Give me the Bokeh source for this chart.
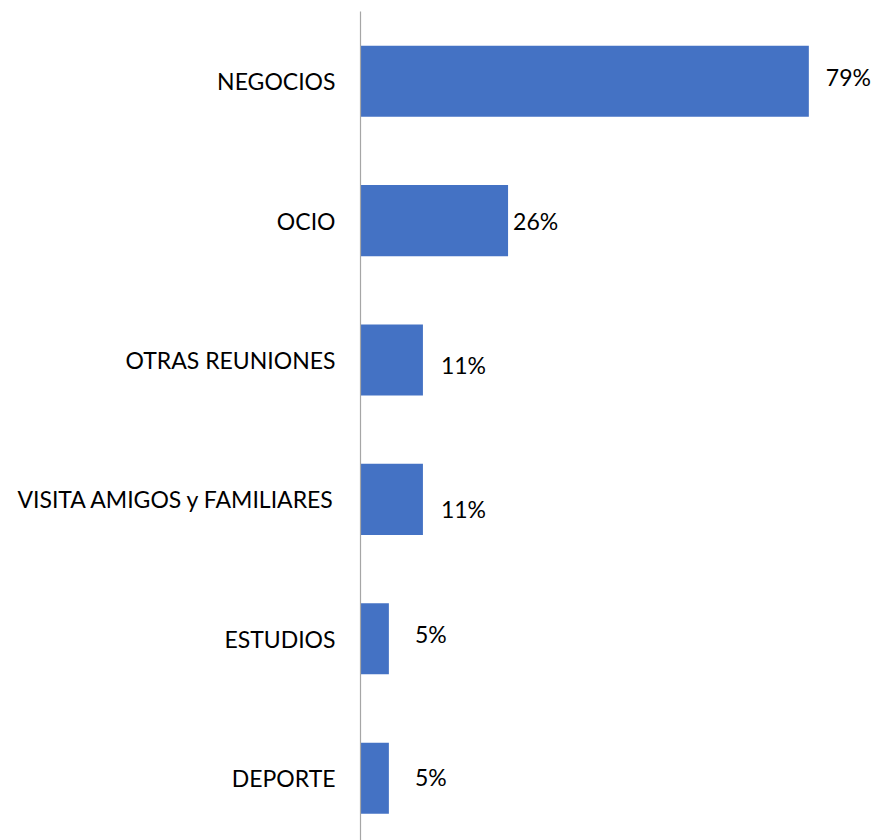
from bokeh.plotting import figure
from bokeh.models import ColumnDataSource, Range1d, FixedTicker
from bokeh.core.properties import value
from bokeh.embed import file_html
from bokeh.resources import INLINE

# Data (top to bottom as in the chart)
categories = ["NEGOCIOS", "OCIO", "OTRAS REUNIONES", "VISITA AMIGOS y FAMILIARES", "ESTUDIOS", "DEPORTE"]
values = [79, 26, 11, 11, 5, 5]
value_labels = ["79%", "26%", "11%", "11%", "5%", "5%"]

# label placement style (pixels), as in the reference's manually moved labels
label_dx = [17, 5, 18, 18, 26, 26]
label_dy = [-4, 0, 5, 10, -5, -1]

n = len(categories)
ypos = [n - 1 - i for i in range(n)]

src = ColumnDataSource(dict(y=ypos, v=values, lab=value_labels, dx=label_dx, dy=label_dy))

FONT = "Lato"
FS = "23px"

p = figure(width=879, height=840, output_backend="svg", toolbar_location=None,
           x_range=Range1d(0, 91.45), y_range=Range1d(-0.447, n - 0.5),
           min_border_left=360, min_border_right=0, min_border_top=11, min_border_bottom=0)
p.outline_line_color = None
p.grid.grid_line_color = None
p.xaxis.visible = False

p.hbar(y="y", right="v", left=0, height=0.51, source=src, color="#4472C4", line_color=None)

p.text(x="v", y="y", text="lab", source=src, x_offset="dx", y_offset="dy",
       text_align="left", text_baseline="middle",
       text_font=value(FONT), text_font_size=FS, text_color="#000000")

ya = p.yaxis[0]
ya.ticker = FixedTicker(ticks=ypos)
ya.major_label_overrides = {yv: c for yv, c in zip(ypos, categories)}
ya.major_tick_line_color = None
ya.minor_tick_line_color = None
ya.major_label_standoff = 19
ya.axis_line_color = "#A6A6A6"
ya.axis_line_width = 1.2
ya.major_label_text_font = FONT
ya.major_label_text_font_size = FS
ya.major_label_text_color = "#000000"

open("out.html", "w").write(file_html(p, INLINE))
